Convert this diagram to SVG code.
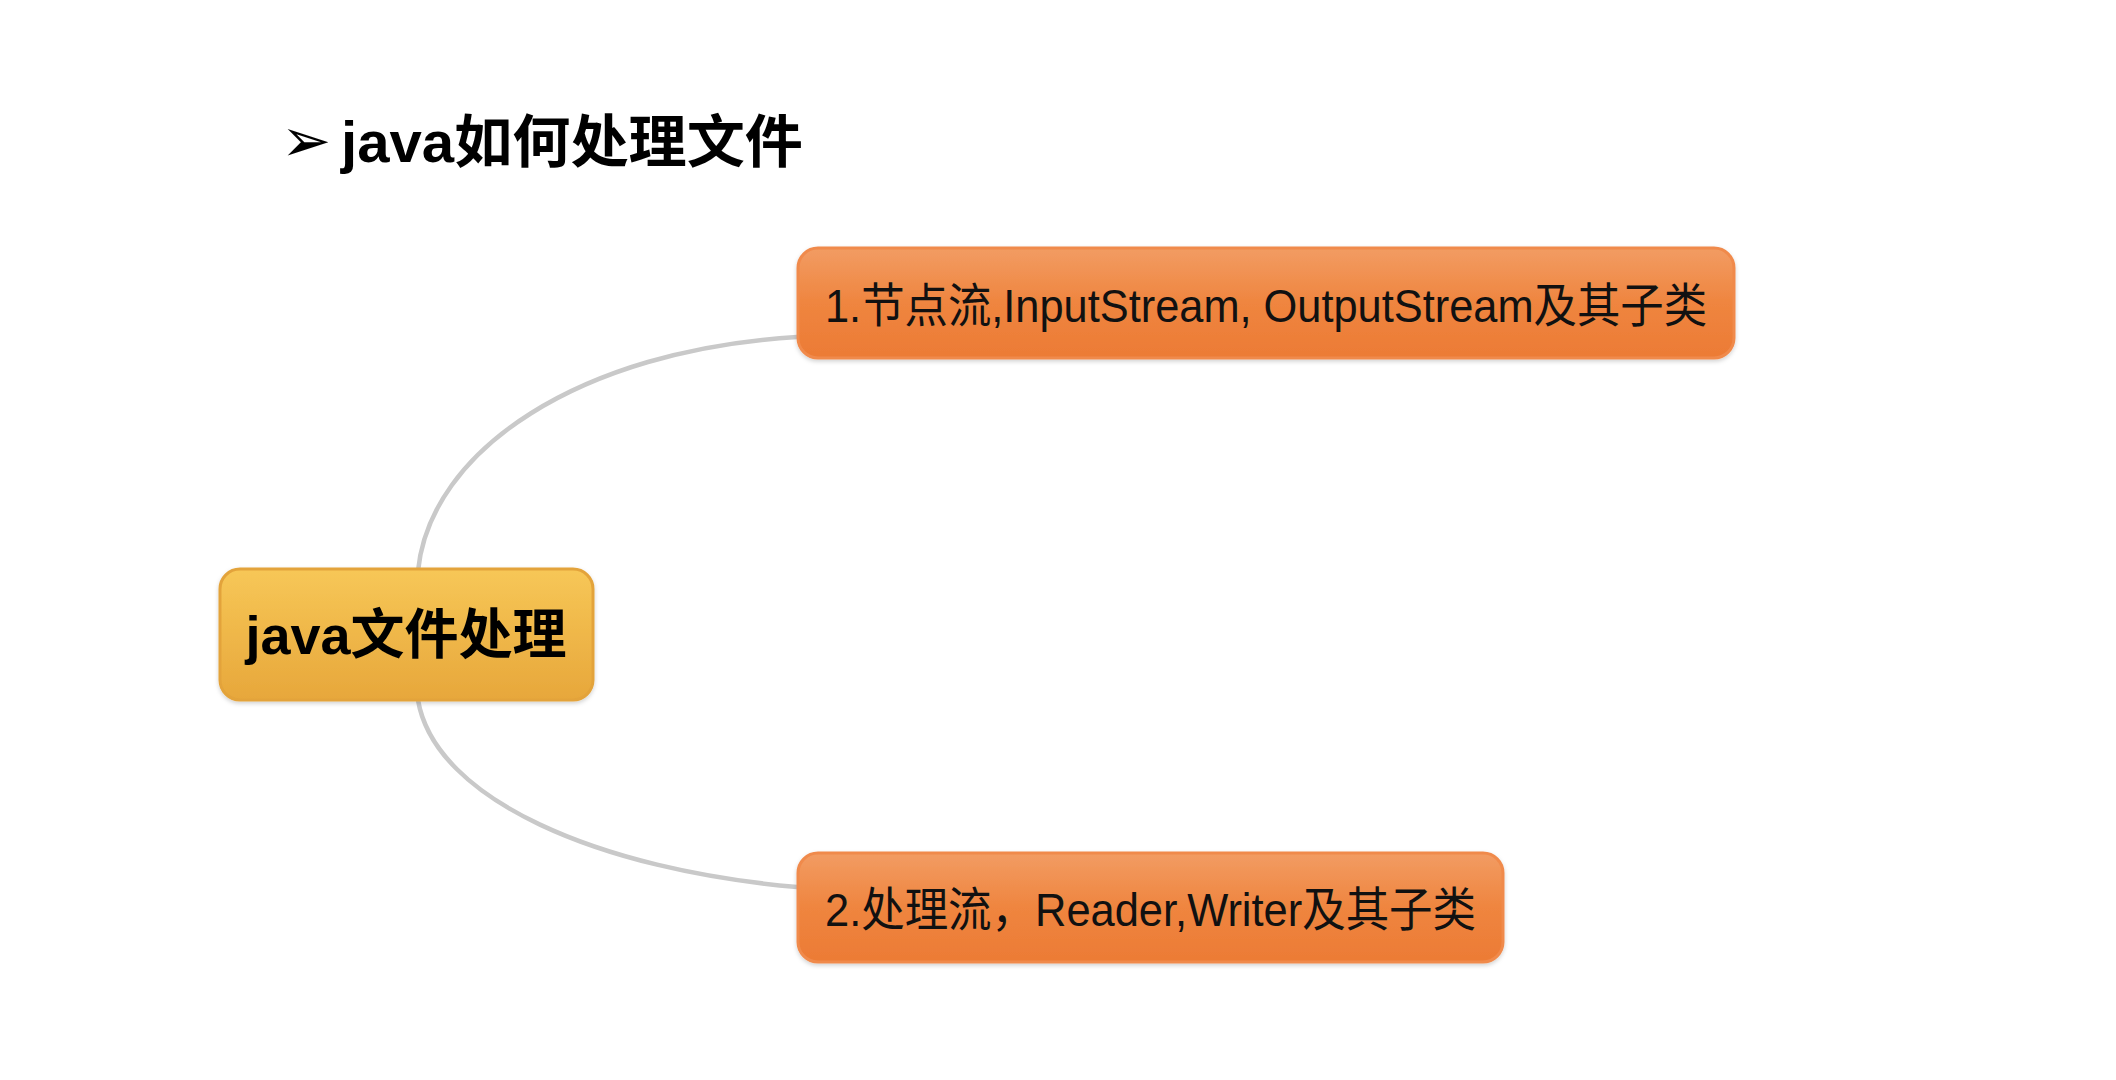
<svg xmlns="http://www.w3.org/2000/svg" width="2116" height="1080" viewBox="0 0 2116 1080">
<defs>
<linearGradient id="gRoot" x1="0" y1="0" x2="0" y2="1">
<stop offset="0" stop-color="#f7c757"/>
<stop offset="1" stop-color="#e7a73b"/>
</linearGradient>
<linearGradient id="gChild" x1="0" y1="0" x2="0" y2="1">
<stop offset="0" stop-color="#f29c63"/>
<stop offset="0.5" stop-color="#ef853f"/>
<stop offset="1" stop-color="#ec7b35"/>
</linearGradient>
<filter id="sh" x="-5%" y="-10%" width="110%" height="130%">
<feDropShadow dx="0" dy="2" stdDeviation="2" flood-color="#000" flood-opacity="0.18"/>
</filter>
</defs>
<style>
.title{font-family:"Liberation Sans","Noto Sans CJK SC",sans-serif;font-weight:bold;font-size:57px;fill:#000}
.root{font-family:"Liberation Sans","Noto Sans CJK SC",sans-serif;font-weight:bold;font-size:54px;fill:#000}
.child{font-family:"Liberation Sans","Noto Sans CJK SC",sans-serif;font-size:47px;fill:#111}
.conn{fill:none;stroke:#c9c9c9;stroke-width:4.5;stroke-linecap:round}
</style>
<rect width="2116" height="1080" fill="#ffffff"/>
<g id="title">
<text x="281" y="161" font-family="DejaVu Sans, sans-serif" font-size="60" fill="#000">➢</text>
<text class="title" x="341" y="162" textLength="462" lengthAdjust="spacingAndGlyphs">java如何处理文件</text>
</g>
<g id="connectors">
<path class="conn" d="M418,571 C430,450 580,350 797,337"/>
<path class="conn" d="M418,700 C435,800 600,870 797,887"/>
</g>
<g id="root">
<rect x="220" y="569" width="373" height="131" rx="20" fill="url(#gRoot)" stroke="#e3a33a" stroke-width="3" filter="url(#sh)"/>
<text class="root" x="406" y="654" text-anchor="middle">java文件处理</text>
</g>
<g id="node1">
<rect x="798" y="248" width="936" height="110" rx="20" fill="url(#gChild)" stroke="#f08a4b" stroke-width="3" filter="url(#sh)"/>
<text class="child" x="825" y="322" textLength="882" lengthAdjust="spacingAndGlyphs">1.节点流,InputStream, OutputStream及其子类</text>
</g>
<g id="node2">
<rect x="798" y="853" width="705" height="109" rx="20" fill="url(#gChild)" stroke="#f08a4b" stroke-width="3" filter="url(#sh)"/>
<text class="child" x="825" y="926" textLength="651" lengthAdjust="spacingAndGlyphs">2.处理流，Reader,Writer及其子类</text>
</g>
</svg>
